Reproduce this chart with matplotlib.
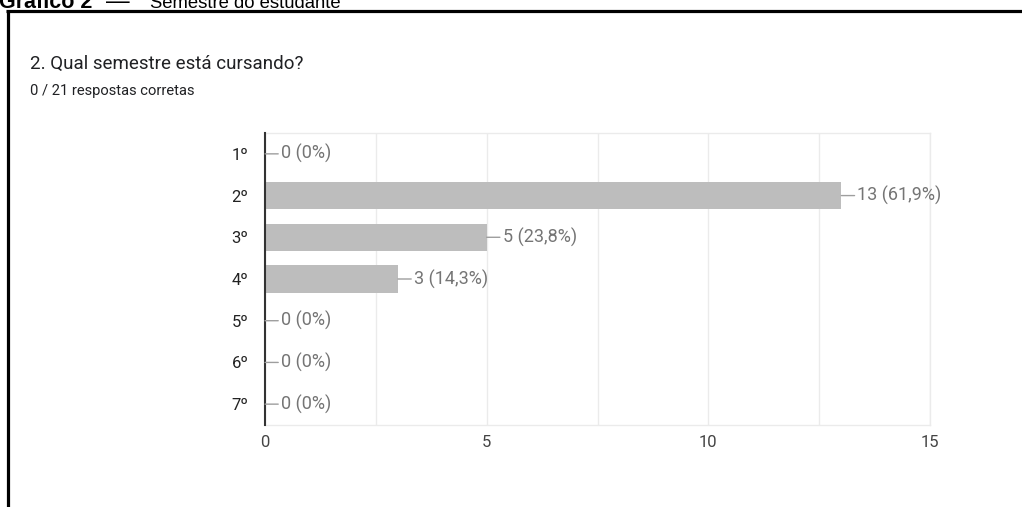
import matplotlib.pyplot as plt
from matplotlib.lines import Line2D

# Data
semestres = ["1º", "2º", "3º", "4º", "5º", "6º", "7º"]
respostas = [0, 13, 5, 3, 0, 0, 0]
rotulos = ["0 (0%)", "13 (61,9%)", "5 (23,8%)", "3 (14,3%)", "0 (0%)", "0 (0%)", "0 (0%)"]
xticks = [0, 5, 10, 15]

W, H = 1022, 507
fig = plt.figure(figsize=(W / 100, H / 100), dpi=100)
fig.patch.set_facecolor("white")

def fx(px):
    return px / W

def fy(py):
    return 1 - py / H

# frame around the form card (only top and left visible)
fig.add_artist(Line2D([fx(6), fx(W)], [fy(10.5), fy(10.5)], color="black", lw=2.3,
                      solid_capstyle="butt"))
fig.add_artist(Line2D([fx(7.5), fx(7.5)], [fy(9.5), fy(H)], color="black", lw=2.3,
                      solid_capstyle="butt"))

# caption, cut off by the top edge as in the source
fig.text(fx(-1), fy(8), "Gráfico 2", fontsize=15.5, fontweight="bold",
         family="Liberation Sans", va="baseline", ha="left", color="black")
fig.text(fx(106), fy(8), "—", fontsize=17,
         family="Liberation Sans", va="baseline", ha="left", color="black")
fig.text(fx(150), fy(8), "Semestre do estudante", fontsize=13.3,
         family="Liberation Sans", va="baseline", ha="left", color="black")

# question header
fig.text(fx(30), fy(69), "2. Qual semestre está cursando?", fontsize=13.5,
         family="Roboto", va="baseline", ha="left", color="#202124")
fig.text(fx(30), fy(95), "0 / 21 respostas corretas", fontsize=10.6,
         family="Roboto", va="baseline", ha="left", color="#202124")

# plot area
left, right, top, bottom = 265, 930, 133, 425
ax = fig.add_axes([fx(left), fy(bottom), fx(right - left), (bottom - top) / H])

y = list(range(len(semestres)))
ax.barh(y, respostas, height=0.65, color="#bdbdbd", zorder=3)
ax.set_ylim(len(semestres) - 0.5, -0.5)
ax.set_xlim(0, 15)

ax.set_xticks(xticks)
ax.set_xticks([2.5, 7.5, 12.5], minor=True)
ax.set_yticks(y)
ax.set_yticklabels(semestres)
ax.grid(axis="x", which="both", color="#ebebeb", lw=1, zorder=0)
ax.tick_params(axis="both", which="both", length=0)
ax.tick_params(axis="y", pad=12, labelsize=12, labelcolor="#222222")
ax.tick_params(axis="x", pad=7, labelsize=12, labelcolor="#444444")
for lbl in ax.get_xticklabels() + ax.get_yticklabels():
    lbl.set_family("Roboto")

for side in ["top", "right", "bottom"]:
    ax.spines[side].set_color("#ebebeb")
    ax.spines[side].set_linewidth(1)
ax.spines["left"].set_color("#333333")
ax.spines["left"].set_linewidth(1.5)
ax.spines["left"].set_zorder(5)

# value annotations with stem lines
for i, (v, txt) in enumerate(zip(respostas, rotulos)):
    ax.annotate(txt, xy=(v, i), xytext=(16, 0), textcoords="offset pixels",
                va="center", ha="left", fontsize=13, color="#757575",
                family="Roboto",
                arrowprops=dict(arrowstyle="-", color="#9e9e9e", lw=1,
                                shrinkA=0, shrinkB=0),
                zorder=6)

fig.savefig("out.png", dpi=100)
